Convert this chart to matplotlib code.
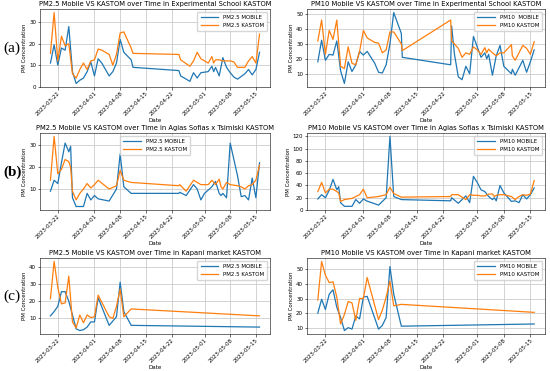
import matplotlib
matplotlib.use('Agg')
import matplotlib.pyplot as plt
import matplotlib.dates as mdates
from matplotlib.ticker import MultipleLocator
import pandas as pd

# ---- (a) Experimental School ----
a25_dates = ['2023-03-20', '2023-03-21', '2023-03-22', '2023-03-23', '2023-03-24', '2023-03-25',
             '2023-03-26', '2023-03-27', '2023-03-28', '2023-03-29', '2023-03-30', '2023-03-31',
             '2023-04-01', '2023-04-02', '2023-04-03', '2023-04-05', '2023-04-06', '2023-04-07',
             '2023-04-08', '2023-04-09', '2023-04-11', '2023-04-11 12:00', '2023-04-24', '2023-04-24 12:00',
             '2023-04-27', '2023-04-28', '2023-04-29', '2023-04-30', '2023-05-02', '2023-05-03',
             '2023-05-03 12:00', '2023-05-04', '2023-05-05', '2023-05-06', '2023-05-07', '2023-05-08',
             '2023-05-09', '2023-05-10', '2023-05-12', '2023-05-13', '2023-05-14', '2023-05-15',
             '2023-05-16']
a25_mobile = [11, 19.5, 10, 18, 17, 28, 7, 1.5, 3, 4, 7, 11.5, 5, 13, 11, 5, 7, 11, 22, 16, 12.5, 9,
              7.5, 5, 2.5, 6.5, 4, 6.5, 7, 9.5, 7, 9, 5, 13.5, 9, 6.5, 4.5, 3.5, 6, 8, 5.5, 8, 16]
a25_kastom = [15.5, 34.5, 12, 23.5, 19, 20, 6, 4, 8, 11, 8, 12, 12.5, 17.5, 17, 15, 10, 15, 25, 25.5,
              18, 15.5, 15, 12.5, 9.5, 12, 16, 13, 11, 14, 11, 12.5, 12.5, 12, 12, 12, 11.5, 9, 9,
              12, 14, 11, 24.5]

a10_dates = ['2023-03-20', '2023-03-21', '2023-03-22', '2023-03-23', '2023-03-24', '2023-03-25',
             '2023-03-26', '2023-03-27', '2023-03-28', '2023-03-29', '2023-03-30', '2023-03-31',
             '2023-04-01', '2023-04-02', '2023-04-04', '2023-04-05', '2023-04-06', '2023-04-07',
             '2023-04-08', '2023-04-09', '2023-04-11', '2023-04-11 06:00', '2023-04-24', '2023-04-24 06:00',
             '2023-04-25', '2023-04-26', '2023-04-27', '2023-04-28', '2023-04-29', '2023-04-30',
             '2023-05-01', '2023-05-02', '2023-05-03', '2023-05-03 12:00', '2023-05-04', '2023-05-05',
             '2023-05-06', '2023-05-07', '2023-05-08', '2023-05-10', '2023-05-10 06:00', '2023-05-11',
             '2023-05-13', '2023-05-14', '2023-05-15', '2023-05-16']
a10_mobile = [18, 32.5, 19, 23, 22.5, 32, 12, 3.5, 18, 11.5, 16, 25, 22.5, 25, 17, 11, 10.5, 16, 30,
              51, 37, 21, 16, 42, 23, 8, 6, 15, 10, 35, 28, 21, 24, 20, 23, 9, 22, 29, 15, 10, 13, 9,
              19, 11, 18, 26]
a10_kastom = [32, 46, 23, 39, 33, 46, 15, 13.5, 28, 17, 16, 25, 39, 34, 31, 30.5, 24, 26, 38, 38, 30,
              25.5, 46, 32, 30, 27, 21, 24, 23, 28, 26, 23, 27.5, 24, 26.5, 24, 22, 24, 24, 29.5, 22,
              19, 29, 27, 23, 31.5]

# ---- (b) Agias Sofias x Tsimiski ----
b_dates = ['2023-03-20', '2023-03-21', '2023-03-22', '2023-03-23', '2023-03-24', '2023-03-25',
           '2023-03-25 12:00', '2023-03-26', '2023-03-27', '2023-03-28', '2023-03-29', '2023-03-30',
           '2023-03-31', '2023-04-01', '2023-04-02', '2023-04-05', '2023-04-07', '2023-04-08',
           '2023-04-09', '2023-04-11', '2023-04-24', '2023-04-24 06:00', '2023-04-26', '2023-04-28',
           '2023-04-29', '2023-04-30', '2023-05-01', '2023-05-02', '2023-05-03', '2023-05-04',
           '2023-05-05', '2023-05-05 12:00', '2023-05-06', '2023-05-07', '2023-05-08', '2023-05-10',
           '2023-05-11', '2023-05-12', '2023-05-13', '2023-05-14', '2023-05-15', '2023-05-16']
b25_mobile = [9, 14, 12.5, 22, 31, 27, 29.5, 6, 2, 2, 2, 8, 5, 7, 5.5, 4.5, 10, 26, 11, 8, 8, 8.5, 7,
              12, 10, 5, 8, 9.5, 11, 13.5, 8, 7, 8, 6, 31, 16, 6.5, 7, 5, 15, 6, 22]
b25_kastom = [14, 34, 17, 19, 23.5, 22.5, 20, 9, 5, 8, 10, 12.5, 10.5, 12, 14, 10, 11.5, 18.5, 14, 13,
              11.5, 12, 9, 14, 13, 12, 12, 12, 14, 12, 14.5, 11, 10, 13, 12, 11.5, 11, 10, 11.5, 12,
              14, 21]
b10_mobile = [18, 25, 20, 32, 50, 33, 38, 12, 6, 6, 6, 17, 11, 18, 14.5, 8, 20, 120, 22, 17, 15, 20,
              11, 23, 12, 55, 45, 33, 30, 22, 17, 20, 15, 40, 28, 14, 15, 12, 25, 18, 25, 36]
b10_kastom = [30, 45, 28, 34, 34, 30, 28, 14, 17, 18, 19, 22, 25, 34, 20, 22, 25, 37, 27, 21, 22, 25,
              25, 17, 25, 24, 24, 23, 23, 26, 26, 22, 24, 25, 25, 22, 17, 22, 25, 24, 26, 48]

# ---- (c) Kapani market ----
c_dates = ['2023-03-20', '2023-03-21', '2023-03-22', '2023-03-23', '2023-03-24', '2023-03-25',
           '2023-03-26', '2023-03-27', '2023-03-28', '2023-03-29', '2023-03-30', '2023-03-31',
           '2023-04-01', '2023-04-02', '2023-04-05', '2023-04-06', '2023-04-07', '2023-04-08',
           '2023-04-09', '2023-04-11', '2023-05-16']
c25_mobile = [11.5, 14, 17, 25.5, 25.5, 20, 12, 4, 3, 3.5, 5, 8, 8, 22, 6, 8.5, 11, 31, 14, 6, 5]
c25_kastom = [21.5, 43, 28, 18.5, 19, 34.5, 8, 4.5, 12, 7.5, 12, 10.5, 11, 23.5, 11, 10, 17, 27, 11,
              15.5, 11.5]
c10_mobile = [20, 29.5, 22.5, 33, 36, 24, 17, 8, 10, 9, 18, 16, 31, 31.5, 9, 11.5, 17, 52, 33, 11, 12.5]
c10_kastom = [29, 55.5, 46, 41, 41.5, 31, 12.5, 19, 28, 27, 15, 30, 30, 44.5, 15.5, 22, 31, 42, 25,
              26, 20.5]

tick_dates = ['2023-03-22', '2023-04-01', '2023-04-08', '2023-04-15',
              '2023-04-22', '2023-05-01', '2023-05-08', '2023-05-15']

panels = [
    ('PM2.5 Mobile VS KASTOM over Time in Experimental School KASTOM', a25_dates, a25_mobile, a25_kastom,
     'PM2.5 MOBILE', 'PM2.5 KASTOM', 'upper right', 10, None),
    ('PM10 Mobile VS KASTOM over Time in Experimental School KASTOM', a10_dates, a10_mobile, a10_kastom,
     'PM10  MOBILE', 'PM10 KASTOM', 'upper right', 10, None),
    ('PM2.5 Mobile VS KASTOM over Time in Agias Sofias x Tsimiski KASTOM', b_dates, b25_mobile, b25_kastom,
     'PM2.5 MOBILE', 'PM2.5 KASTOM', 'upper center', 10, None),
    ('PM10 Mobile VS KASTOM over Time in Agias Sofias x Tsimiski KASTOM', b_dates, b10_mobile, b10_kastom,
     'PM10 MOBILE', 'PM10 KASTOM', 'upper right', 20, 0),
    ('PM2.5 Mobile VS KASTOM over Time in Kapani market KASTOM', c_dates, c25_mobile, c25_kastom,
     'PM2.5 MOBILE', 'PM2.5 KASTOM', 'upper right', 10, None),
    ('PM10 Mobile VS KASTOM over Time in Kapani market KASTOM', c_dates, c10_mobile, c10_kastom,
     'PM10 MOBILE', 'PM10 KASTOM', 'upper right', 10, None),
]

# axes boxes in pixels (left, right, top, bottom) of a 550x371 canvas
W, H = 550, 371
cols = [(40, 270), (307, 545)]
rows = [(9, 87), (133, 210), (258, 334)]

fig = plt.figure(figsize=(5.5, 3.71), dpi=100)
fig.patch.set_facecolor('white')

for i, (title, dates, mob, kas, lab_m, lab_k, loc, ystep, ybot) in enumerate(panels):
    r, c = divmod(i, 2)
    x0, x1 = cols[c]
    y0, y1 = rows[r]
    ax = fig.add_axes([x0 / W, 1 - y1 / H, (x1 - x0) / W, (y1 - y0) / H])
    d = pd.to_datetime(dates, format='mixed')
    ax.plot(d, mob, color='#1f77b4', linewidth=0.9, label=lab_m)
    ax.plot(d, kas, color='#ff7f0e', linewidth=0.9, label=lab_k)
    if ybot is not None:
        ax.set_ylim(bottom=ybot)
    ax.set_xticks(pd.to_datetime(tick_dates))
    ax.xaxis.set_major_formatter(mdates.DateFormatter('%Y-%m-%d'))
    ax.yaxis.set_major_locator(MultipleLocator(ystep))
    ax.set_title(title, fontsize=4.9, pad=2)
    ax.set_xlabel('Date', fontsize=4, labelpad=0.5)
    ax.set_ylabel('PM Concentration', fontsize=4, labelpad=1.5)
    ax.tick_params(axis='both', labelsize=4, length=1.8, width=0.4, pad=1)
    for lbl in ax.get_xticklabels():
        lbl.set_rotation(45)
        lbl.set_ha('right')
        lbl.set_rotation_mode('anchor')
    ax.grid(True, color='#cccccc', linewidth=0.6)
    for s in ax.spines.values():
        s.set_linewidth(0.4)
    ax.legend(loc=loc, fontsize=4, framealpha=0.8, borderpad=0.6, handlelength=3.2,
              edgecolor='#cccccc')

fig.text(3 / W, 1 - 48 / H, '(a)', fontsize=11, family='Liberation Serif', va='center')
fig.text(3 / W, 1 - 172 / H, '(b)', fontsize=11, family='Liberation Serif', weight='bold', va='center')
fig.text(3 / W, 1 - 296 / H, '(c)', fontsize=11, family='Liberation Serif', va='center')

fig.savefig('out.png', dpi=100)
